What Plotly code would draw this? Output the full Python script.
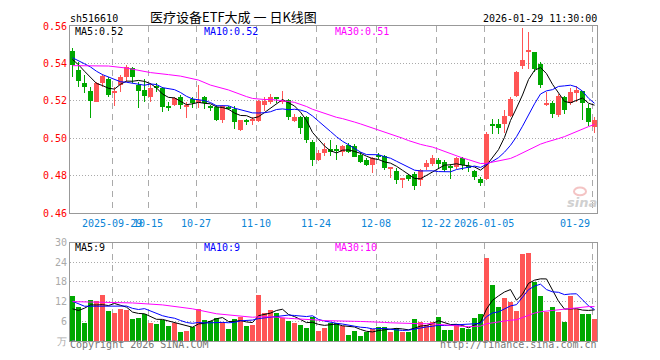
import plotly.graph_objects as go

# ---------------- data ----------------
dates = (
    ["2025-09-%02d" % d for d in [18, 19, 22, 23, 24, 25, 26, 29, 30]] +
    ["2025-10-%02d" % d for d in [9, 10, 13, 14, 15, 16, 17, 20, 21, 22, 23, 24, 27, 28, 29, 30, 31]] +
    ["2025-11-%02d" % d for d in [3, 4, 5, 6, 7, 10, 11, 12, 13, 14, 17, 18, 19, 20, 21, 24, 25, 26, 27, 28]] +
    ["2025-12-%02d" % d for d in [1, 2, 3, 4, 5, 8, 9, 10, 11, 12, 15, 16, 17, 18, 19, 22, 23, 24, 25, 26, 29, 30, 31]] +
    ["2026-01-%02d" % d for d in [5, 6, 7, 8, 9, 12, 13, 14, 15, 16, 19, 20, 21, 22, 23, 26, 27, 28, 29]]
)

opens = [0.5468, 0.5363, 0.5296, 0.5253, 0.5196, 0.5296, 0.5319, 0.5246, 0.5284, 0.5328,
         0.5375, 0.5284, 0.5258, 0.5218, 0.5279, 0.5267, 0.5167, 0.5179, 0.5218, 0.5165,
         0.5209, 0.5191, 0.5218, 0.5167, 0.5165, 0.5096, 0.5163, 0.5158, 0.5044, 0.5093,
         0.5095, 0.5091, 0.5179, 0.5196, 0.5220, 0.5196, 0.5205, 0.5093, 0.5112, 0.5112,
         0.4981, 0.4886, 0.4921, 0.4944, 0.4937, 0.4925, 0.4963, 0.4960, 0.4911, 0.4881,
         0.4858, 0.4905, 0.4904, 0.4837, 0.4825, 0.4781, 0.4802, 0.4807, 0.4775, 0.4846,
         0.4860, 0.4881, 0.4872, 0.4846, 0.4846, 0.4893, 0.4848, 0.4825, 0.4781, 0.4781,
         0.5070, 0.5074, 0.5074, 0.5121, 0.5226, 0.5386, 0.5461, 0.5460, 0.5398, 0.5177,
         0.5190, 0.5123, 0.5218, 0.5188, 0.5240, 0.5251, 0.5163, 0.5058]
highs = [0.5480, 0.5407, 0.5337, 0.5275, 0.5302, 0.5346, 0.5328, 0.5275, 0.5337, 0.5390,
         0.5381, 0.5302, 0.5316, 0.5293, 0.5293, 0.5275, 0.5196, 0.5223, 0.5232, 0.5196,
         0.5223, 0.5284, 0.5228, 0.5180, 0.5180, 0.5180, 0.5172, 0.5170, 0.5100, 0.5105,
         0.5114, 0.5205, 0.5223, 0.5235, 0.5221, 0.5254, 0.5211, 0.5128, 0.5118, 0.5118,
         0.4993, 0.4939, 0.4974, 0.4993, 0.4963, 0.4963, 0.4972, 0.4969, 0.4928, 0.4893,
         0.4902, 0.4923, 0.4912, 0.4842, 0.4842, 0.4790, 0.4811, 0.4821, 0.4837, 0.4881,
         0.4911, 0.4893, 0.4881, 0.4860, 0.4902, 0.4902, 0.4874, 0.4832, 0.4793, 0.5033,
         0.5102, 0.5102, 0.5153, 0.5218, 0.5360, 0.5591, 0.5568, 0.5460, 0.5407, 0.5247,
         0.5200, 0.5235, 0.5225, 0.5267, 0.5281, 0.5254, 0.5181, 0.5114]
lows = [0.5328, 0.5275, 0.5240, 0.5109, 0.5196, 0.5275, 0.5223, 0.5170, 0.5247, 0.5302,
        0.5293, 0.5161, 0.5196, 0.5196, 0.5249, 0.5140, 0.5144, 0.5170, 0.5158, 0.5109,
        0.5161, 0.5161, 0.5158, 0.5147, 0.5091, 0.5082, 0.5150, 0.5047, 0.5039, 0.5070,
        0.5070, 0.5086, 0.5147, 0.5182, 0.5188, 0.5182, 0.5100, 0.5086, 0.5025, 0.4975,
        0.4853, 0.4877, 0.4904, 0.4904, 0.4886, 0.4907, 0.4919, 0.4900, 0.4867, 0.4850,
        0.4814, 0.4888, 0.4830, 0.4786, 0.4756, 0.4733, 0.4770, 0.4725, 0.4742, 0.4832,
        0.4849, 0.4842, 0.4819, 0.4781, 0.4837, 0.4832, 0.4819, 0.4779, 0.4742, 0.4775,
        0.5021, 0.5021, 0.5030, 0.5111, 0.5219, 0.5372, 0.5372, 0.5354, 0.5267, 0.5172,
        0.5107, 0.5114, 0.5130, 0.5180, 0.5196, 0.5095, 0.5067, 0.5030]
closes = [0.5390, 0.5305, 0.5275, 0.5200, 0.5296, 0.5332, 0.5232, 0.5254, 0.5328, 0.5381,
          0.5328, 0.5254, 0.5228, 0.5267, 0.5267, 0.5165, 0.5165, 0.5214, 0.5175, 0.5177,
          0.5188, 0.5205, 0.5188, 0.5162, 0.5096, 0.5170, 0.5158, 0.5088, 0.5096, 0.5091,
          0.5100, 0.5200, 0.5200, 0.5218, 0.5214, 0.5202, 0.5114, 0.5114, 0.5053, 0.4993,
          0.4882, 0.4921, 0.4942, 0.4926, 0.4935, 0.4956, 0.4928, 0.4902, 0.4875, 0.4858,
          0.4893, 0.4902, 0.4839, 0.4842, 0.4774, 0.4786, 0.4781, 0.4742, 0.4832, 0.4867,
          0.4893, 0.4860, 0.4828, 0.4842, 0.4895, 0.4855, 0.4846, 0.4793, 0.4758, 0.5021,
          0.5067, 0.5056, 0.5121, 0.5209, 0.5354, 0.5416, 0.5468, 0.5368, 0.5284, 0.5191,
          0.5130, 0.5228, 0.5151, 0.5246, 0.5260, 0.5191, 0.5088, 0.5098]
# volume in 万手
volumes = [13.8, 10.6, 5.6, 12.6, 12.3, 14.3, 9.2, 8.8, 9.8, 9.5,
           6.8, 7.1, 8.3, 5.6, 5.3, 6.6, 4.8, 5.6, 3.0, 3.3,
           4.3, 9.8, 6.6, 6.3, 7.0, 6.0, 3.8, 6.8, 7.6, 4.8,
           5.1, 14.3, 8.8, 9.5, 8.8, 7.0, 6.3, 5.6, 5.0, 4.1,
           7.5, 3.1, 4.1, 5.6, 5.6, 4.8, 2.1, 3.3, 1.8, 2.8,
           3.8, 4.3, 4.3, 2.8, 4.0, 3.0, 2.9, 6.8, 6.0, 5.0,
           5.8, 7.3, 3.5, 3.5, 5.3, 4.0, 3.8, 7.1, 8.3, 25.5,
           17.3, 10.5, 13.1, 12.0, 9.2, 26.6, 26.9, 18.0, 14.0, 9.1,
           10.5, 9.0, 6.0, 14.0, 9.8, 8.3, 8.5, 6.8]

ma5_head_idx = [0, 1, 2, 3]
ma5_head = [0.5421, 0.5393, 0.5358, 0.5328]
ma10_head_idx = [0, 1, 2, 3, 4, 5, 6, 7, 8]
ma10_head = [0.5430, 0.5416, 0.5398, 0.5381, 0.5358, 0.5340, 0.5328, 0.5316, 0.5302]
ma30_head_idx = [0, 6, 9, 13, 16, 18, 21, 23, 26, 28]
ma30_head = [0.5388, 0.5386, 0.5375, 0.5351, 0.5340, 0.5332, 0.5311, 0.5284, 0.5258, 0.5232]
vma5_head_idx = [0, 1, 2, 3]
vma5_head = [9.8, 9.3, 10.0, 11.0]
vma10_head_idx = [0, 1, 2, 4, 6, 8]
vma10_head = [12.1, 11.3, 10.6, 10.6, 10.7, 10.7]
vma30_head_idx = [0, 5, 10, 15, 20, 24, 28]
vma30_head = [12.0, 11.9, 11.6, 11.0, 9.8, 8.3, 7.6]

label_dates = ["2025-09-29", "2025-10-15", "2025-10-27", "2025-11-10", "2025-11-24",
               "2025-12-08", "2025-12-22", "2026-01-05", "2026-01-29"]
label_texts = ["2025-09-29", "10-15", "10-27", "11-10", "11-24",
               "12-08", "12-22", "2026-01-05", "01-29"]
price_ticks = [0.46, 0.48, 0.50, 0.52, 0.54, 0.56]
vol_ticks = [0, 6, 12, 18, 24, 30]
vol_tick_text = ["万", "6", "12", "18", "24", "30"]

code = "sh516610"
title = "医疗设备ETF大成 一 日K线图"
stamp = "2026-01-29 11:30:00"

# ---------------- helpers ----------------
OFF = 8                      # the page body margin the figure sits in
W, H = 660 - OFF, 360 - OFF
L, R, T, B = 70 - OFF, 63, 21 - OFF, 19
PW, PH = W - L - R, H - T - B
RED, GREEN = "#ff5555", "#00a800"
MONO = "DejaVu Sans Mono"


def px(x):          # page pixel -> paper
    return (x - OFF - L) / PW


def py(y):
    return 1 - (y - OFF - T) / PH


def sma(vals, n):
    idx = list(range(n - 1, len(vals)))
    return idx, [sum(vals[i - n + 1:i + 1]) / n for i in idx]


def ma_series(vals, n, head_idx, head_vals):
    i2, v2 = sma(vals, n)
    return head_idx + i2, head_vals + v2


N = len(closes)
xs = list(range(N))
up = [c >= o for o, c in zip(opens, closes)]
colors = [RED if u else GREEN for u in up]
body_base = [min(o, c) for o, c in zip(opens, closes)]
body_h = [max(abs(c - o), 0.0005) for o, c in zip(opens, closes)]

fig = go.Figure()

# wicks
fig.add_trace(go.Bar(x=xs, y=[h - l for h, l in zip(highs, lows)], base=lows,
                     width=1 / 6, marker=dict(color=colors, line=dict(width=0)),
                     xaxis="x", yaxis="y", hoverinfo="skip"))
# bodies
fig.add_trace(go.Bar(x=xs, y=body_h, base=body_base, width=5 / 6,
                     marker=dict(color=colors, line=dict(width=0)),
                     xaxis="x", yaxis="y", customdata=list(zip(dates, opens, highs, lows, closes)),
                     hovertemplate="%{customdata[0]}<br>O %{customdata[1]}<br>H %{customdata[2]}"
                                   "<br>L %{customdata[3]}<br>C %{customdata[4]}<extra></extra>"))

ma_cfg = [(5, "#000000"), (10, "#0000ff"), (30, "#ff00ff")]
heads = {5: (ma5_head_idx, ma5_head), 10: (ma10_head_idx, ma10_head), 30: (ma30_head_idx, ma30_head)}
vheads = {5: (vma5_head_idx, vma5_head), 10: (vma10_head_idx, vma10_head), 30: (vma30_head_idx, vma30_head)}
last_ma, last_vma = {}, {}
for n, col in ma_cfg:
    mx, my = ma_series(closes, n, *heads[n])
    last_ma[n] = my[-1]
    fig.add_trace(go.Scatter(x=mx, y=my, mode="lines", line=dict(color=col, width=1),
                             xaxis="x", yaxis="y", hoverinfo="skip"))

# volume
fig.add_trace(go.Bar(x=xs, y=volumes, width=5 / 6, marker=dict(color=colors, line=dict(width=0)),
                     xaxis="x2", yaxis="y2", hoverinfo="skip"))
for n, col in ma_cfg:
    mx, my = ma_series(volumes, n, *vheads[n])
    last_vma[n] = my[-1]
    fig.add_trace(go.Scatter(x=mx, y=my, mode="lines", line=dict(color=col, width=1),
                             xaxis="x2", yaxis="y2", hoverinfo="skip"))

grid_x = [dates.index(d) - 0.4167 for d in label_dates]
xr = [-0.4167, N - 1 + 0.4167]
common_x = dict(range=xr, showticklabels=False, ticks="", tickvals=grid_x,
                showgrid=True, gridcolor="#aaaaaa", griddash="6px,5px", gridwidth=1,
                showline=True, linecolor="#999999", linewidth=1, mirror=True, zeroline=False,
                fixedrange=True)

fig.update_layout(
    width=W, height=H, margin=dict(l=L, r=R, t=T, b=B),
    paper_bgcolor="white", plot_bgcolor="white", showlegend=False,
    barmode="overlay", bargap=0,
    font=dict(family=MONO, size=10, color="#000000"),
    xaxis=dict(domain=[0, 1], anchor="y", **common_x),
    xaxis2=dict(domain=[0, 1], anchor="y2", **common_x),
    yaxis=dict(domain=[py(211), 1], range=[0.46, 0.56], tickvals=price_ticks,
               ticktext=["%.2f" % v for v in price_ticks], ticks="", ticklabelstandoff=0,
               tickfont=dict(family=MONO, size=10, color="#ff0000"),
               showgrid=True, gridcolor="#aaaaaa", griddash="1px,2px", zeroline=False,
               showline=True, linecolor="#999999", mirror=True, fixedrange=True),
    yaxis2=dict(domain=[0, py(241)], range=[0, 30], tickvals=vol_ticks, ticktext=vol_tick_text,
                ticks="", ticklabelstandoff=0,
                tickfont=dict(family=MONO, size=10, color="#aaaaaa"),
                showgrid=True, gridcolor="#aaaaaa", griddash="1px,2px", zeroline=False,
                showline=True, linecolor="#999999", mirror=True, fixedrange=True),
)

ann = []


def text(x, y, s, color="#000000", anchor="left", size=10, family=MONO, **kw):
    ann.append(dict(xref="paper", yref="paper", x=px(x), y=py(y), text=s, showarrow=False,
                    xanchor=anchor, yanchor="middle", borderpad=0,
                    font=dict(family=family, size=size, color=color), **kw))


text(69, 13, code)
text(149, 11.5, title, size=13, family="Noto Sans CJK SC")
text(598, 13, stamp, anchor="right")

text(74, 26.5, "MA5:%.2f" % last_ma[5])
text(203, 26.5, "MA10:%.2f" % last_ma[10], color="#0000ff")
text(334, 26.5, "MA30:%.2f" % last_ma[30], color="#ff00ff")
text(74, 246, "MA5:%d" % int(last_vma[5]))
text(203, 246, "MA10:%d" % int(last_vma[10]), color="#0000ff")
text(334, 246, "MA30:%d" % int(last_vma[30]), color="#ff00ff")

for d, s in zip(label_dates, label_texts):
    gx = 70 + (dates.index(d) - 0.4167 - xr[0]) * PW / (xr[1] - xr[0])
    if gx + len(s) * 3 > 70 + PW:
        text(gx - 1, 222, s, color="#0a84d6", anchor="right")
    else:
        text(gx, 222, s, color="#0a84d6", anchor="center")

text(69, 345, "Copyright 2026 SINA.COM", color="#777777")
text(598, 345, "http://finance.sina.com.cn", color="#777777", anchor="right")

# faint sina watermark (logo ring as a shape, word as text)
text(582, 200, "<b><i>sina</i></b>", color="#d0d0d0", anchor="center", size=13, family="DejaVu Sans")
shapes = [dict(type="circle", xref="paper", yref="paper",
               x0=px(574), x1=px(586), y0=py(193), y1=py(185),
               line=dict(color="#f4c4c4", width=2))]

fig.update_layout(annotations=ann, shapes=shapes)
fig.write_html("out.html")
